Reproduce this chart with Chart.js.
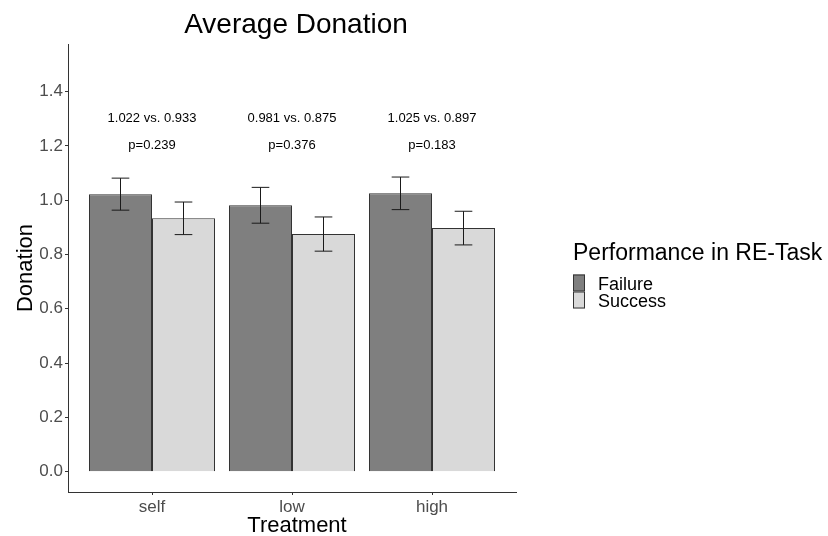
<!DOCTYPE html>
<html>
<head>
<meta charset="utf-8">
<script src="https://cdn.jsdelivr.net/npm/chart.js@4.4.1/dist/chart.umd.min.js"></script>
<style>
  html, body { margin: 0; padding: 0; background: #ffffff; }
  #wrap { width: 828px; height: 536px; }
</style>
</head>
<body>
<div id="wrap"><canvas id="chart" width="828" height="536"></canvas></div>
<script>
// Treatment groups and mean donations by performance in the RE-task
const categories = ["self", "low", "high"];
const failureMeans = [1.022, 0.981, 1.025];
const successMeans = [0.933, 0.875, 0.897];
// Standard errors (half-length of each error bar)
const failureErr = [0.059, 0.066, 0.060];
const successErr = [0.060, 0.063, 0.062];
// Two-sided test p-values per treatment
const pValues = ["0.239", "0.376", "0.183"];
const yTicks = [0.0, 0.2, 0.4, 0.6, 0.8, 1.0, 1.2, 1.4];
const seriesNames = ["Failure", "Success"];

const FONT = "'Liberation Sans', Arial, sans-serif";
const AXIS_COL = "#333333";
const TICK_TXT = "#4d4d4d";

const toPoints = arr => arr.map((v, i) => ({ x: i + 1, y: v }));

// Draws error bars, the comparison labels, titles and legend
const decorations = {
  id: "decorations",
  afterDatasetsDraw(chart) {
    const ctx = chart.ctx;
    const xs = chart.scales.x, ys = chart.scales.y;
    const errs = [failureErr, successErr];
    const means = [failureMeans, successMeans];
    ctx.save();
    ctx.strokeStyle = "#1a1a1a";
    ctx.lineWidth = 1;
    [0, 1].forEach(d => {
      const meta = chart.getDatasetMeta(d);
      meta.data.forEach((bar, i) => {
        const half = bar.width * 0.14;
        const top = ys.getPixelForValue(means[d][i] + errs[d][i]);
        const bot = ys.getPixelForValue(means[d][i] - errs[d][i]);
        ctx.beginPath();
        ctx.moveTo(bar.x, top); ctx.lineTo(bar.x, bot);
        ctx.moveTo(bar.x - half, top); ctx.lineTo(bar.x + half, top);
        ctx.moveTo(bar.x - half, bot); ctx.lineTo(bar.x + half, bot);
        ctx.stroke();
      });
    });

    // comparison labels above each treatment
    ctx.fillStyle = "#000000";
    ctx.font = "13px " + FONT;
    ctx.textAlign = "center";
    ctx.textBaseline = "middle";
    categories.forEach((c, i) => {
      const cx = xs.getPixelForValue(i + 1);
      ctx.fillText(failureMeans[i].toFixed(3) + " vs. " + successMeans[i].toFixed(3), cx, ys.getPixelForValue(1.3));
      ctx.fillText("p=" + pValues[i], cx, ys.getPixelForValue(1.2));
    });
    ctx.restore();
  },
  afterDraw(chart) {
    const ctx = chart.ctx;
    const area = chart.chartArea;
    ctx.save();
    ctx.fillStyle = "#000000";
    ctx.textAlign = "center";
    ctx.textBaseline = "alphabetic";

    // chart title
    ctx.font = "28px " + FONT;
    ctx.fillText("Average Donation", 296, 33);

    // axis titles
    ctx.font = "22px " + FONT;
    ctx.fillText("Treatment", 297, 532);
    ctx.save();
    ctx.translate(32, (area.top + area.bottom) / 2);
    ctx.rotate(-Math.PI / 2);
    ctx.fillText("Donation", 0, 0);
    ctx.restore();

    // legend
    ctx.textAlign = "left";
    ctx.font = "23px " + FONT;
    ctx.fillText("Performance in RE-Task", 573, 260);
    ctx.font = "18px " + FONT;
    chart.data.datasets.forEach((ds, k) => {
      const y0 = 274.5 + k * 17;
      ctx.fillStyle = ds.backgroundColor;
      ctx.fillRect(573, y0, 12, 17);
      ctx.strokeStyle = AXIS_COL;
      ctx.lineWidth = 1;
      ctx.strokeRect(573.5, y0 + 0.5, 11, 16);
      ctx.fillStyle = "#000000";
      ctx.fillText(ds.label, 598, y0 + 15.5);
    });
    ctx.restore();
  }
};

new Chart(document.getElementById("chart"), {
  type: "bar",
  data: {
    datasets: [
      {
        label: seriesNames[0],
        data: toPoints(failureMeans),
        backgroundColor: "#7f7f7f",
        borderColor: AXIS_COL,
        borderWidth: 1,
        categoryPercentage: 0.9,
        barPercentage: 1.0
      },
      {
        label: seriesNames[1],
        data: toPoints(successMeans),
        backgroundColor: "#d9d9d9",
        borderColor: AXIS_COL,
        borderWidth: 1,
        categoryPercentage: 0.9,
        barPercentage: 1.0
      }
    ]
  },
  options: {
    responsive: false,
    animation: false,
    events: [],
    layout: { padding: { left: 0, top: 44, right: 312, bottom: 0 } },
    plugins: { legend: { display: false }, title: { display: false }, tooltip: { enabled: false } },
    scales: {
      x: {
        type: "linear",
        min: 0.4,
        max: 3.6,
        offset: false,
        grid: { display: true, offset: false, drawOnChartArea: false, drawTicks: true, tickLength: 3, color: AXIS_COL },
        border: { display: true, color: AXIS_COL, width: 1 },
        afterBuildTicks: s => { s.ticks = categories.map((c, i) => ({ value: i + 1 })); },
        afterFit: s => { s.height = 44; },
        ticks: {
          autoSkip: false,
          maxRotation: 0,
          padding: 2,
          color: TICK_TXT,
          font: { family: FONT, size: 17 },
          callback: v => categories[Math.round(v) - 1]
        }
      },
      y: {
        type: "linear",
        min: -0.075,
        max: 1.575,
        grid: { display: true, drawOnChartArea: false, drawTicks: true, tickLength: 3, color: AXIS_COL },
        border: { display: true, color: AXIS_COL, width: 1 },
        afterBuildTicks: s => { s.ticks = yTicks.map(v => ({ value: v })); },
        afterFit: s => { s.width = 68; },
        ticks: {
          padding: 2,
          color: TICK_TXT,
          font: { family: FONT, size: 17 },
          callback: v => Number(v).toFixed(1)
        }
      }
    }
  },
  plugins: [decorations]
});
</script>
</body>
</html>
